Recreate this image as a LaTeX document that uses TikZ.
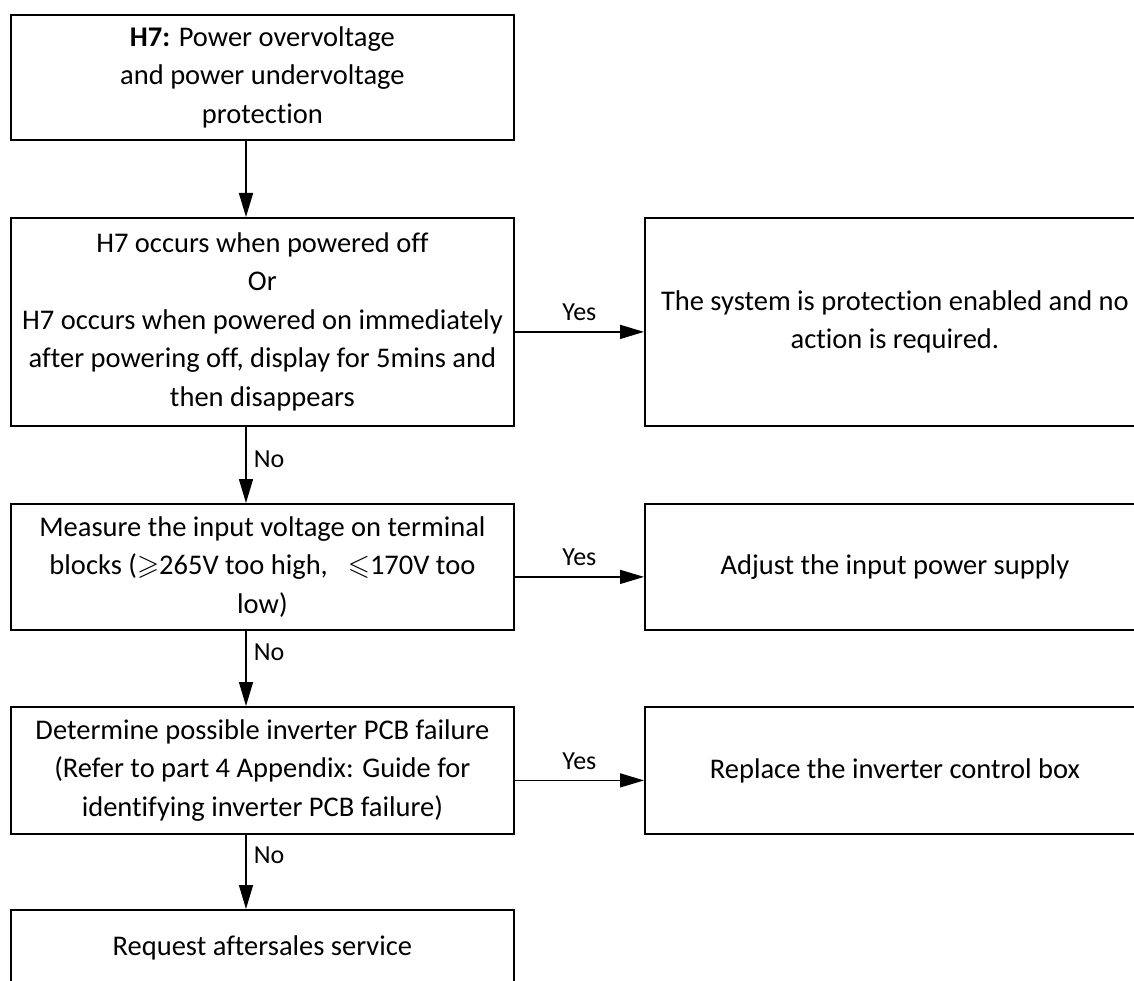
\documentclass[tikz,border=0pt]{standalone}
\usepackage{fontspec}
\usepackage{amssymb}
\setmainfont{Carlito}[Ligatures=NoCommon]
\usetikzlibrary{arrows.meta}
\begin{document}
\begin{tikzpicture}[x=1pt,y=-1pt,
  box/.style={draw, line width=1.8pt, anchor=north west, minimum width=503pt,
    align=center, inner sep=0pt, font=\fontsize{28.5}{38.5}\selectfont},
  rbox/.style={box, minimum width=500pt},
  arr/.style={line width=1.5pt, -{Triangle[length=24pt,width=14pt]}},
  lbl/.style={font=\fontsize{26}{30}\selectfont, inner sep=0pt}]
\useasboundingbox (0,0) rectangle (1134,981);
\node[box, minimum height=125pt] (b1) at (10,14)
  {\textbf{H7:} Power overvoltage\\ and power undervoltage\\ protection};
\node[box, minimum height=208pt] (b2) at (10,217)
  {H7 occurs when powered off\\ Or\\ H7 occurs when powered on immediately\\ after powering off, display for 5mins and\\ then disappears};
\node[rbox, minimum height=208pt] (r1) at (644,217)
  {The system is protection enabled and no\\ action is required.};
\node[box, minimum height=126pt] (b3) at (10,503)
  {Measure the input voltage on terminal\\ blocks ($\geqslant$265V too high,\hspace{0.7em}$\leqslant$170V too\\ low)};
\node[rbox, minimum height=126pt] (r2) at (644,503)
  {Adjust the input power supply};
\node[box, minimum height=127pt] (b4) at (10,706)
  {Determine possible inverter PCB failure\\ (Refer to part 4 Appendix: Guide for\\ identifying inverter PCB failure)};
\node[rbox, minimum height=127pt] (r3) at (644,706)
  {Replace the inverter control box};
\node[box, minimum height=76pt] (b5) at (10,909)
  {Request aftersales service};

\draw[arr] ([xshift=236pt]b1.south west) -- ([xshift=236pt]b2.north west);
\draw[arr] ([xshift=236pt]b2.south west) -- ([xshift=236pt]b3.north west)
  node[lbl, pos=0.54, anchor=base west, xshift=7pt] (n1) {No};
\draw[arr] ([xshift=236pt]b3.south west) -- ([xshift=236pt]b4.north west)
  node[lbl, pos=0.4, anchor=base west, xshift=7pt] (n2) {No};
\draw[arr] ([xshift=236pt]b4.south west) -- ([xshift=236pt]b5.north west)
  node[lbl, pos=0.39, anchor=base west, xshift=7pt] (n3) {No};

\draw[arr] ([yshift=-10pt]b2.east) -- ([yshift=-10pt]r1.west)
  node[lbl, midway, anchor=base, yshift=11pt] (y1) {Yes};
\draw[arr] ([yshift=-10pt]b3.east) -- ([yshift=-10pt]r2.west)
  node[lbl, midway, anchor=base, yshift=11pt] (y2) {Yes};
\draw[arr] ([yshift=-10pt]b4.east) -- ([yshift=-10pt]r3.west)
  node[lbl, midway, anchor=base, yshift=11pt] (y3) {Yes};
\end{tikzpicture}
\end{document}
